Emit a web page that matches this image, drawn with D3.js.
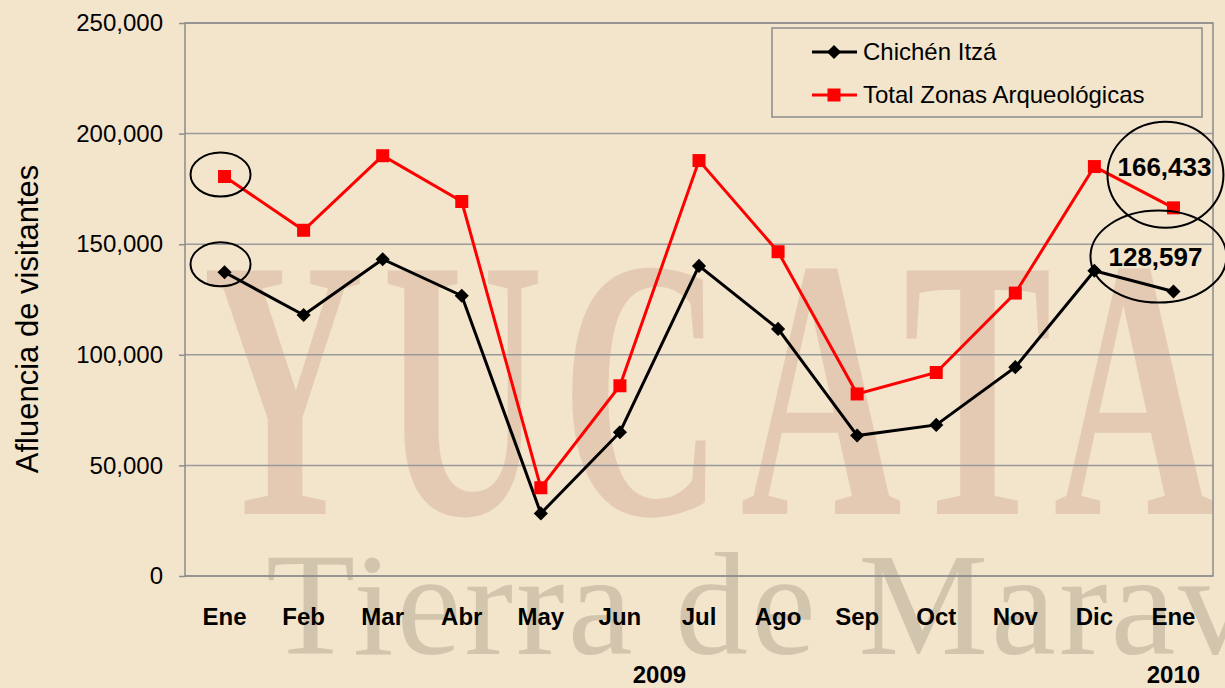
<!DOCTYPE html>
<html>
<head>
<meta charset="utf-8">
<script src="https://cdn.jsdelivr.net/npm/d3@7"></script>
<style>
  body { margin: 0; background: #f3e4cc; }
  svg { display: block; font-family: "Liberation Sans", Arial, sans-serif; }
</style>
</head>
<body>
<div id="chart"></div>
<script>
// Chart data
const months = ["Ene", "Feb", "Mar", "Abr", "May", "Jun", "Jul", "Ago", "Sep", "Oct", "Nov", "Dic", "Ene2"];
const monthLabels = ["Ene", "Feb", "Mar", "Abr", "May", "Jun", "Jul", "Ago", "Sep", "Oct", "Nov", "Dic", "Ene"];
const chichenItza = [137300, 118000, 143200, 126700, 28300, 65000, 140200, 111700, 63500, 68300, 94400, 138000, 128597];
const totalZonas = [180600, 156300, 190000, 169300, 39900, 86000, 187800, 146600, 82300, 92000, 127900, 185100, 166433];
const yTicks = [0, 50000, 100000, 150000, 200000, 250000];
const years = [{ label: "2009", at: 5.5 }, { label: "2010", at: 12 }];

let width = 1225, height = 688;
let margin = { top: 23, bottom: 112, left: 185, right: 12 };

let svg = d3.select('#chart')
    .append('svg')
    .attr('width', width)
    .attr('height', height);

// parchment background + faded watermark
svg.append('rect')
    .attr('width', width)
    .attr('height', height)
    .attr('fill', '#f3e4cc');

svg.append('text')
    .text('YUCATAN')
    .attr('transform', 'translate(203,514) scale(0.6,1)')
    .style('font-family', '"Liberation Serif", "DejaVu Serif", serif')
    .style('font-size', '372px')
    .style('font-weight', 'bold')
    .style('letter-spacing', '30px')
    .attr('fill', '#b8806c')
    .attr('opacity', 0.25);

svg.append('text')
    .text('Tierra de Maravillas')
    .attr('x', 266)
    .attr('y', 654)
    .style('font-family', '"Liberation Serif", "DejaVu Serif", serif')
    .style('font-size', '146px')
    .style('letter-spacing', '3px')
    .attr('fill', '#a2977f')
    .attr('opacity', 0.4);

// scales
let xScale = d3.scaleBand()
    .domain(months)
    .range([margin.left, width - margin.right])
    .padding(0);

let yScale = d3.scaleLinear()
    .domain([0, 250000])
    .range([height - margin.bottom, margin.top]);

const cx = d => xScale(d) + xScale.bandwidth() / 2;

// gridlines
svg.append('g')
    .selectAll('line')
    .data(yTicks)
    .enter()
    .append('line')
    .attr('x1', margin.left)
    .attr('x2', width - margin.right)
    .attr('y1', d => yScale(d))
    .attr('y2', d => yScale(d))
    .attr('stroke', '#9a9a9a')
    .attr('stroke-width', 1.5);

// plot border
svg.append('rect')
    .attr('x', margin.left)
    .attr('y', margin.top)
    .attr('width', width - margin.right - margin.left)
    .attr('height', height - margin.bottom - margin.top)
    .attr('fill', 'none')
    .attr('stroke', '#8c8c8c')
    .attr('stroke-width', 1.5);

// y axis
let yAxis = svg.append('g')
    .attr('transform', `translate(${margin.left},0)`)
    .call(d3.axisLeft(yScale).tickValues(yTicks).tickFormat(d3.format(',')).tickSize(6).tickPadding(16));
yAxis.select('.domain').remove();
yAxis.selectAll('line').attr('stroke', '#8c8c8c').attr('stroke-width', 1.5);
yAxis.selectAll('text')
    .style('font-size', '24px')
    .style('font-family', '"Liberation Sans", Arial, sans-serif')
    .attr('fill', '#000');

// x labels
svg.append('g')
    .selectAll('text')
    .data(months)
    .enter()
    .append('text')
    .text((d, i) => monthLabels[i])
    .attr('x', d => cx(d))
    .attr('y', 625)
    .attr('text-anchor', 'middle')
    .style('font-size', '24px')
    .style('font-weight', 'bold');

// year labels
svg.append('g')
    .selectAll('text')
    .data(years)
    .enter()
    .append('text')
    .text(d => d.label)
    .attr('x', d => margin.left + xScale.bandwidth() * (d.at + 0.5))
    .attr('y', 683)
    .attr('text-anchor', 'middle')
    .style('font-size', '24px')
    .style('font-weight', 'bold');

// y axis title
svg.append('text')
    .text('Afluencia de visitantes')
    .attr('x', -319)
    .attr('y', 38)
    .attr('text-anchor', 'middle')
    .attr('transform', 'rotate(-90)')
    .style('font-size', '31px');

// lines
let line = d3.line()
    .x((d, i) => cx(months[i]))
    .y(d => yScale(d));

svg.append('path')
    .datum(totalZonas)
    .attr('d', line)
    .attr('fill', 'none')
    .attr('stroke', '#ff0000')
    .attr('stroke-width', 3);

svg.append('path')
    .datum(chichenItza)
    .attr('d', line)
    .attr('fill', 'none')
    .attr('stroke', '#000')
    .attr('stroke-width', 3);

// markers
svg.append('g')
    .selectAll('rect')
    .data(totalZonas)
    .enter()
    .append('rect')
    .attr('x', (d, i) => cx(months[i]) - 6.5)
    .attr('y', d => yScale(d) - 6.5)
    .attr('width', 13)
    .attr('height', 13)
    .attr('fill', '#ff0000');

const diamond = d3.symbol().type(d3.symbolSquare).size(100);
svg.append('g')
    .selectAll('path')
    .data(chichenItza)
    .enter()
    .append('path')
    .attr('d', diamond)
    .attr('transform', (d, i) => `translate(${cx(months[i])},${yScale(d)}) rotate(45)`)
    .attr('fill', '#000');

// annotation ellipses
const last = months.length - 1;
const ellipses = [
    { x: cx(months[0]) - 4, y: yScale(totalZonas[0]) - 2, rx: 30, ry: 22 },
    { x: cx(months[0]) - 4, y: yScale(chichenItza[0]) - 8, rx: 30, ry: 22 },
    { x: cx(months[last]) - 8, y: yScale(totalZonas[last]) - 33, rx: 58, ry: 53 },
    { x: cx(months[last]) - 15, y: yScale(chichenItza[last]) - 35, rx: 68, ry: 46 }
];
svg.append('g')
    .selectAll('ellipse')
    .data(ellipses)
    .enter()
    .append('ellipse')
    .attr('cx', d => d.x)
    .attr('cy', d => d.y)
    .attr('rx', d => d.rx)
    .attr('ry', d => d.ry)
    .attr('fill', 'none')
    .attr('stroke', '#000')
    .attr('stroke-width', 2);

// value labels on the last point
svg.append('text')
    .text(d3.format(',')(totalZonas[last]))
    .attr('x', cx(months[last]) - 9)
    .attr('y', yScale(totalZonas[last]) - 32)
    .attr('text-anchor', 'middle')
    .style('font-size', '26px')
    .style('font-weight', 'bold');

svg.append('text')
    .text(d3.format(',')(chichenItza[last]))
    .attr('x', cx(months[last]) - 18)
    .attr('y', yScale(chichenItza[last]) - 26)
    .attr('text-anchor', 'middle')
    .style('font-size', '26px')
    .style('font-weight', 'bold');

// legend
const legend = svg.append('g')
    .attr('transform', 'translate(772,28)');

legend.append('rect')
    .attr('width', 430)
    .attr('height', 89)
    .attr('fill', 'none')
    .attr('stroke', '#8c8c8c')
    .attr('stroke-width', 1.5);

const series = [
    { name: 'Chichén Itzá', color: '#000', marker: 'diamond' },
    { name: 'Total Zonas Arqueológicas', color: '#ff0000', marker: 'square' }
];

series.forEach((s, i) => {
    let ly = 24 + i * 43;
    legend.append('line')
        .attr('x1', 40)
        .attr('x2', 85)
        .attr('y1', ly)
        .attr('y2', ly)
        .attr('stroke', s.color)
        .attr('stroke-width', 3);
    if (s.marker === 'square') {
        legend.append('rect')
            .attr('x', 55.5)
            .attr('y', ly - 6.5)
            .attr('width', 13)
            .attr('height', 13)
            .attr('fill', s.color);
    } else {
        legend.append('path')
            .attr('d', diamond)
            .attr('transform', `translate(62,${ly}) rotate(45)`)
            .attr('fill', s.color);
    }
    legend.append('text')
        .text(s.name)
        .attr('x', 91)
        .attr('y', ly + 8)
        .style('font-size', '24px');
});
</script>
</body>
</html>
